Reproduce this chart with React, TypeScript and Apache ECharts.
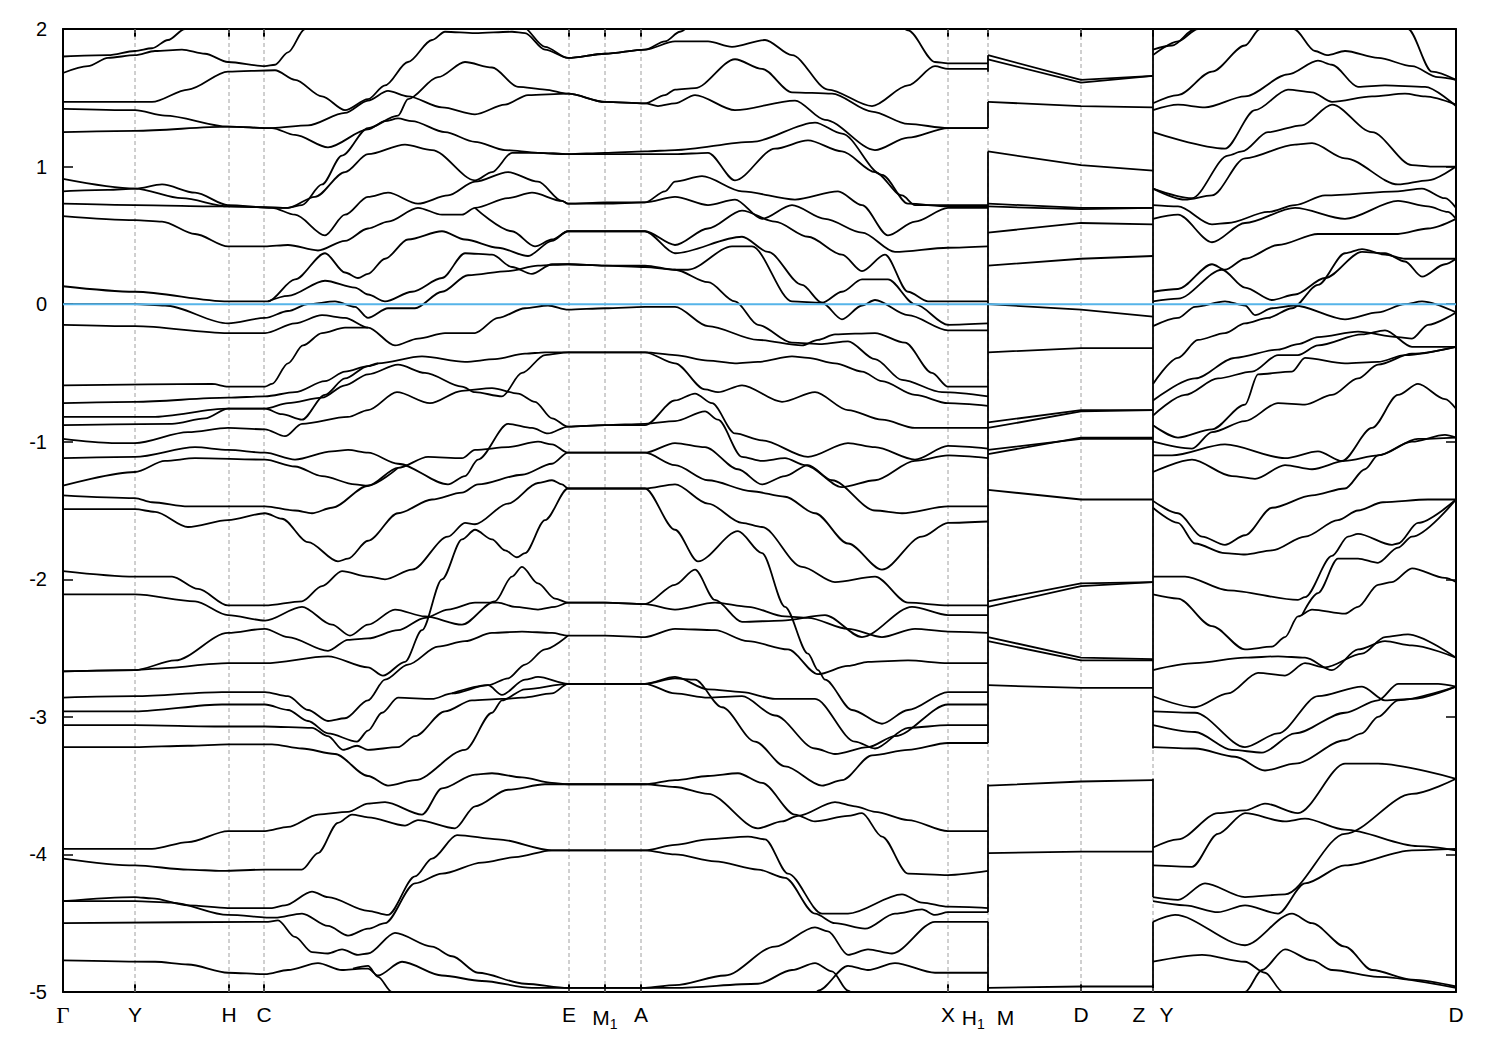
import React, { useEffect, useRef } from "react";
import * as echarts from "echarts";

type Pt = [number, number];

// High-symmetry points along the k-path (path length units) and their names
const kPoints = [0, 72, 166, 201, 506, 542, 578, 885, 925, 1018, 1090, 1393];
const kNames = ["Γ", "Y", "H", "C", "E", "M1", "A", "X", "H1 M", "D", "Z Y", "D"];
const energyMin = -5;
const energyMax = 2;
const energyStep = 1;
const fermiEnergy = 0;

// Panel 1: Γ - Y - H - C - E - M1 - A - X - H1   (k, E in eV)
const bandsGammaToH1: Pt[][] = [
  [[0,1.80],[45,1.81],[72,1.84],[89,1.86],[105,1.92],[122,2.0],[135,2.08]],
  [[0,1.68],[25,1.73],[45,1.79],[72,1.81],[92,1.84],[119,1.85],[142,1.82],[165,1.76],[202,1.73],[212,1.74],[225,1.83],[242,2.0],[250,2.08]],
  [[0,1.47],[89,1.47],[125,1.56],[165,1.69],[212,1.70],[232,1.63],[259,1.51],[282,1.41],[305,1.49],[322,1.59],[345,1.76],[369,1.92],[382,1.98],[412,1.97],[449,1.98],[462,1.97],[482,1.85],[505,1.79],[542,1.82],[582,1.85],[602,1.91],[617,1.98],[630,2.06]],
  [[440,2.08],[459,2.02],[482,1.87],[505,1.79],[542,1.82],[582,1.85],[612,1.91],[645,1.91],[669,1.87],[702,1.92],[729,1.81],[765,1.56],[809,1.44],[845,1.59],[872,1.73],[885,1.71],[925,1.71]],
  [[835,2.06],[845,1.99],[872,1.76],[885,1.75],[925,1.75]],
  [[0,1.42],[72,1.41],[102,1.37],[165,1.29],[209,1.28],[245,1.30],[282,1.39],[305,1.48],[325,1.55],[345,1.51],[379,1.43],[412,1.38],[442,1.45],[465,1.52],[505,1.53],[542,1.47],[582,1.46],[595,1.44],[612,1.46],[632,1.52],[672,1.41],[732,1.48],[762,1.34],[812,1.12],[845,1.21],[885,1.28],[925,1.28]],
  [[0,1.25],[72,1.26],[165,1.29],[209,1.28],[232,1.23],[265,1.14],[305,1.27],[322,1.33],[335,1.35],[349,1.33],[382,1.25],[412,1.18],[442,1.12],[475,1.10],[505,1.09],[542,1.10],[582,1.11],[612,1.12],[689,1.18],[752,1.32],[779,1.24],[819,0.94],[845,0.73],[885,0.71],[925,0.71]],
  [[0,0.73],[72,0.72],[165,0.71],[225,0.70],[239,0.72],[259,0.87],[279,1.08],[305,1.28],[335,1.37],[345,1.49],[375,1.65],[402,1.76],[429,1.72],[455,1.58],[482,1.56],[505,1.53],[542,1.47],[582,1.46],[602,1.52],[612,1.56],[632,1.57],[672,1.78],[699,1.71],[729,1.54],[769,1.53],[809,1.40],[845,1.31],[885,1.28],[925,1.28]],
  [[0,0.91],[72,0.84],[119,0.77],[165,0.71],[225,0.70],[252,0.78],[282,0.96],[305,1.09],[342,1.16],[369,1.12],[412,0.90],[429,0.96],[449,1.10],[475,1.10],[505,1.09],[542,1.09],[582,1.09],[612,1.09],[645,1.10],[672,0.90],[712,1.13],[745,1.19],[779,1.11],[812,0.96],[839,0.79],[852,0.72],[885,0.72],[925,0.72]],
  [[0,0.82],[45,0.83],[72,0.84],[99,0.87],[132,0.81],[165,0.72],[209,0.70],[232,0.65],[262,0.50],[282,0.65],[305,0.78],[325,0.81],[355,0.73],[385,0.79],[412,0.89],[445,0.96],[475,0.89],[499,0.75],[505,0.73],[542,0.74],[582,0.74],[602,0.82],[612,0.89],[639,0.93],[679,0.82],[732,0.76],[775,0.82],[799,0.72],[825,0.50],[852,0.60],[885,0.70],[925,0.70]],
  [[0,0.64],[72,0.61],[99,0.60],[132,0.51],[165,0.42],[202,0.42],[225,0.43],[255,0.39],[282,0.46],[305,0.55],[325,0.60],[355,0.70],[379,0.65],[399,0.65],[412,0.70],[445,0.77],[469,0.81],[499,0.75],[505,0.73],[542,0.73],[582,0.74],[612,0.78],[645,0.72],[672,0.76],[699,0.62],[729,0.72],[762,0.62],[799,0.52],[832,0.38],[885,0.41],[925,0.42]],
  [[0,0.13],[72,0.09],[165,0.02],[205,0.02],[232,0.18],[262,0.37],[282,0.23],[295,0.19],[305,0.22],[322,0.33],[345,0.47],[379,0.53],[402,0.47],[435,0.41],[465,0.35],[489,0.46],[505,0.53],[542,0.53],[582,0.53],[612,0.43],[645,0.55],[679,0.68],[712,0.60],[745,0.49],[779,0.36],[799,0.24],[822,0.36],[845,0.09],[865,0.02],[925,0.02]],
  [[412,0.70],[449,0.53],[472,0.42],[489,0.47],[505,0.53],[542,0.53],[582,0.53],[612,0.37],[679,0.49],[705,0.38],[739,0.14],[759,0.01],[779,0.09],[799,0.18],[825,0.18],[852,0.00],[885,-0.15],[925,-0.14]],
  [[205,0.02],[225,0.06],[262,0.17],[292,0.12],[305,0.07],[322,0.02],[349,0.09],[379,0.19],[402,0.37],[429,0.36],[449,0.27],[469,0.22],[489,0.29],[505,0.29],[542,0.28],[582,0.27],[612,0.25],[625,0.25],[669,0.42],[689,0.42],[729,0.02],[759,0.01],[779,-0.11],[799,-0.01],[812,0.03],[845,-0.08],[885,-0.19],[925,-0.19]],
  [[0,0.00],[72,0.00],[102,-0.01],[165,-0.14],[202,-0.10],[225,-0.05],[245,0.00],[272,0.02],[292,-0.02],[305,-0.10],[325,-0.03],[352,-0.03],[379,0.09],[405,0.21],[445,0.24],[475,0.28],[505,0.29],[542,0.28],[582,0.28],[612,0.25],[645,0.16],[672,0.02],[695,-0.15],[729,-0.28],[759,-0.29],[785,-0.27],[812,-0.40],[839,-0.55],[879,-0.64],[925,-0.67]],
  [[0,-0.15],[72,-0.16],[165,-0.21],[202,-0.21],[232,-0.14],[259,-0.08],[282,-0.10],[305,-0.17],[332,-0.30],[355,-0.25],[382,-0.21],[412,-0.21],[435,-0.10],[462,-0.03],[485,-0.01],[505,-0.04],[542,-0.03],[582,-0.02],[612,-0.02],[645,-0.16],[695,-0.26],[739,-0.30],[755,-0.26],[772,-0.22],[812,-0.21],[842,-0.28],[869,-0.50],[885,-0.60],[925,-0.60]],
  [[0,-0.59],[149,-0.58],[165,-0.60],[202,-0.60],[209,-0.58],[225,-0.43],[240,-0.30],[259,-0.21],[282,-0.17],[305,-0.17]],
  [[0,-0.72],[72,-0.71],[165,-0.68],[202,-0.67],[232,-0.64],[262,-0.56],[282,-0.49],[305,-0.45],[315,-0.43],[359,-0.38],[402,-0.42],[432,-0.40],[462,-0.36],[482,-0.35],[505,-0.35],[542,-0.35],[582,-0.35],[612,-0.37],[645,-0.41],[672,-0.43],[695,-0.42],[729,-0.38],[745,-0.39],[772,-0.43],[799,-0.49],[819,-0.56],[852,-0.66],[885,-0.72],[925,-0.74]],
  [[0,-0.82],[89,-0.82],[165,-0.76],[202,-0.76],[225,-0.72],[259,-0.68],[282,-0.59],[305,-0.51],[335,-0.44],[362,-0.50],[399,-0.60],[412,-0.64],[439,-0.67],[459,-0.50],[482,-0.37],[505,-0.35],[542,-0.35],[582,-0.35],[612,-0.43],[642,-0.62],[655,-0.64],[679,-0.59],[719,-0.71],[752,-0.64],[785,-0.77],[819,-0.84],[852,-0.90],[885,-0.90],[925,-0.90]],
  [[0,-0.88],[109,-0.87],[142,-0.83],[165,-0.76],[202,-0.76],[219,-0.80],[239,-0.84],[262,-0.66],[282,-0.54],[305,-0.45],[315,-0.43]],
  [[0,-0.98],[49,-1.01],[72,-1.01],[125,-0.93],[165,-0.90],[202,-0.91],[222,-0.96],[239,-0.87],[285,-0.82],[305,-0.77],[334,-0.64],[367,-0.72],[399,-0.63],[429,-0.61],[455,-0.65],[472,-0.71],[489,-0.83],[505,-0.89],[542,-0.88],[582,-0.88],[612,-0.70],[632,-0.65],[649,-0.72],[672,-0.94],[699,-0.99],[745,-1.11],[785,-1.01],[812,-1.04],[852,-1.13],[885,-1.03],[925,-1.05]],
  [[0,-1.12],[72,-1.11],[132,-1.04],[165,-1.06],[202,-1.08],[232,-1.13],[269,-1.07],[285,-1.06],[305,-1.08],[335,-1.16],[385,-1.31],[402,-1.25],[415,-1.13],[445,-0.87],[469,-0.90],[485,-0.94],[505,-0.89],[542,-0.88],[582,-0.87],[612,-0.85],[642,-0.78],[655,-0.84],[679,-1.11],[699,-1.14],[722,-1.12],[742,-1.17],[779,-1.33],[812,-1.28],[852,-1.14],[885,-1.10],[925,-1.12]],
  [[0,-1.32],[72,-1.22],[102,-1.14],[132,-1.12],[202,-1.13],[232,-1.18],[259,-1.25],[292,-1.31],[305,-1.32],[335,-1.19],[365,-1.11],[399,-1.12],[412,-1.06],[445,-1.04],[475,-1.00],[489,-1.02],[505,-1.08],[542,-1.08],[582,-1.08],[612,-1.01],[642,-1.04],[675,-1.20],[699,-1.31],[722,-1.25],[745,-1.17],[769,-1.28],[812,-1.50],[839,-1.52],[885,-1.47],[925,-1.47]],
  [[0,-1.39],[72,-1.41],[89,-1.44],[125,-1.47],[202,-1.47],[232,-1.50],[249,-1.52],[269,-1.48],[305,-1.32],[335,-1.19]],
  [[0,-1.49],[72,-1.49],[92,-1.51],[125,-1.62],[165,-1.57],[202,-1.52],[219,-1.56],[245,-1.73],[275,-1.87],[285,-1.85],[305,-1.72],[335,-1.52],[369,-1.42],[399,-1.37],[415,-1.31],[459,-1.24],[489,-1.16],[505,-1.08],[542,-1.08],[582,-1.08],[612,-1.17],[645,-1.28],[689,-1.36],[722,-1.40],[752,-1.52],[785,-1.74],[819,-1.93],[859,-1.69],[885,-1.59],[925,-1.58]],
  [[0,-1.94],[72,-1.98],[109,-1.98],[135,-2.07],[165,-2.19],[202,-2.19],[239,-2.16],[259,-2.05],[279,-1.94],[305,-1.98],[322,-2.00],[349,-1.93],[385,-1.69],[402,-1.59],[412,-1.60],[445,-1.45],[475,-1.30],[489,-1.28],[499,-1.31],[505,-1.34],[542,-1.34],[582,-1.34],[612,-1.31],[645,-1.45],[679,-1.59],[699,-1.62],[739,-1.91],[772,-2.02],[812,-1.98],[845,-2.17],[885,-2.19],[925,-2.19]],
  [[0,-2.67],[72,-2.66],[92,-2.65],[165,-2.61],[202,-2.61],[265,-2.56],[305,-2.64],[320,-2.70],[342,-2.60],[359,-2.37],[379,-2.00],[399,-1.71],[412,-1.64],[429,-1.71],[442,-1.79],[454,-1.84],[462,-1.81],[482,-1.57],[505,-1.34],[542,-1.34],[582,-1.34],[612,-1.64],[635,-1.87],[675,-1.65],[699,-1.81],[722,-2.20],[745,-2.54],[755,-2.66],[762,-2.73],[789,-2.95],[819,-3.05],[845,-2.95],[885,-2.82],[925,-2.82]],
  [[0,-2.11],[72,-2.11],[132,-2.16],[165,-2.26],[202,-2.30],[239,-2.20],[269,-2.33],[287,-2.41],[305,-2.33],[332,-2.22],[362,-2.27],[399,-2.33],[432,-2.16],[449,-1.98],[459,-1.91],[475,-2.03],[492,-2.14],[505,-2.17],[542,-2.17],[582,-2.18],[612,-2.04],[632,-1.93],[652,-2.15],[679,-2.31],[719,-2.30],[762,-2.26],[799,-2.42],[849,-2.20],[885,-2.26],[925,-2.26]],
  [[0,-2.67],[72,-2.66],[112,-2.59],[165,-2.39],[202,-2.36],[225,-2.42],[265,-2.52],[285,-2.44],[305,-2.43],[335,-2.37],[362,-2.28],[385,-2.22],[412,-2.17],[435,-2.17],[452,-2.20],[475,-2.22],[492,-2.20],[505,-2.17],[542,-2.17],[582,-2.18],[612,-2.22],[652,-2.17],[685,-2.20],[722,-2.27],[745,-2.28],[785,-2.36],[819,-2.42],[852,-2.36],[885,-2.38],[925,-2.39]],
  [[0,-2.86],[72,-2.85],[159,-2.82],[202,-2.82],[225,-2.85],[245,-2.95],[265,-3.03],[282,-3.01],[305,-2.88],[322,-2.73],[345,-2.62],[375,-2.49],[402,-2.45],[429,-2.39],[459,-2.38],[489,-2.39],[505,-2.41],[542,-2.41],[582,-2.42],[612,-2.36],[652,-2.37],[685,-2.45],[725,-2.51],[755,-2.69],[785,-2.63],[805,-2.60],[845,-2.59],[885,-2.61],[925,-2.61]],
  [[389,-2.83],[425,-2.77],[445,-2.72],[462,-2.62],[482,-2.51],[505,-2.41]],
  [[0,-2.96],[72,-2.96],[159,-2.91],[202,-2.91],[225,-2.95],[245,-3.03],[265,-3.12],[294,-3.18],[305,-3.10],[319,-2.97],[335,-2.86],[369,-2.87],[389,-2.83],[425,-2.77],[439,-2.84],[462,-2.73],[475,-2.71],[505,-2.76],[542,-2.76],[582,-2.76],[612,-2.83],[645,-2.86],[679,-2.85],[712,-2.99],[752,-3.23],[772,-3.27],[805,-3.22],[832,-3.14],[885,-2.91],[925,-2.91]],
  [[0,-3.06],[72,-3.06],[159,-3.07],[202,-3.07],[249,-3.08],[265,-3.14],[280,-3.24],[294,-3.21],[305,-3.24],[335,-3.22],[352,-3.14],[382,-2.96],[409,-2.88],[439,-2.87],[459,-2.86],[489,-2.83],[505,-2.76],[542,-2.76],[582,-2.76],[612,-2.71],[645,-2.80],[679,-2.82],[712,-2.87],[752,-2.87],[792,-3.18],[812,-3.23],[845,-3.08],[885,-3.06],[925,-3.06]],
  [[0,-3.22],[72,-3.22],[125,-3.21],[165,-3.20],[209,-3.20],[239,-3.23],[272,-3.27],[305,-3.43],[325,-3.50],[352,-3.46],[402,-3.24],[429,-2.97],[439,-2.88],[462,-2.80],[505,-2.76],[542,-2.76],[582,-2.76],[612,-2.72],[632,-2.73],[659,-2.93],[692,-3.18],[722,-3.36],[759,-3.50],[779,-3.46],[809,-3.28],[845,-3.24],[885,-3.19],[925,-3.19]],
  [[0,-3.96],[89,-3.96],[125,-3.91],[165,-3.83],[202,-3.83],[225,-3.80],[255,-3.71],[285,-3.69],[305,-3.63],[322,-3.62],[359,-3.71],[379,-3.52],[412,-3.42],[429,-3.41],[459,-3.44],[489,-3.48],[505,-3.49],[542,-3.49],[582,-3.49],[612,-3.46],[645,-3.43],[675,-3.41],[699,-3.48],[732,-3.71],[752,-3.76],[785,-3.72],[799,-3.70],[819,-3.87],[845,-4.14],[885,-4.15],[925,-4.12]],
  [[0,-4.03],[72,-4.08],[125,-4.11],[159,-4.12],[202,-4.11],[239,-4.11],[255,-3.99],[275,-3.77],[289,-3.71],[305,-3.73],[342,-3.79],[355,-3.75],[392,-3.81],[412,-3.65],[445,-3.53],[482,-3.49],[505,-3.49],[542,-3.49],[582,-3.49],[612,-3.51],[645,-3.56],[695,-3.81],[719,-3.76],[735,-3.72],[772,-3.62],[792,-3.65],[812,-3.69],[845,-3.75],[885,-3.83],[925,-3.83]],
  [[0,-4.34],[72,-4.31],[89,-4.32],[125,-4.37],[165,-4.39],[209,-4.39],[222,-4.37],[249,-4.27],[265,-4.31],[305,-4.41],[325,-4.44],[352,-4.16],[369,-4.03],[394,-3.86],[435,-3.89],[489,-3.97],[505,-3.97],[542,-3.97],[582,-3.97],[612,-3.93],[645,-3.89],[685,-3.87],[702,-3.89],[725,-4.14],[759,-4.43],[785,-4.43],[839,-4.29],[859,-4.35],[885,-4.38],[925,-4.39]],
  [[0,-4.34],[72,-4.34],[109,-4.35],[165,-4.44],[212,-4.46],[239,-4.43],[265,-4.52],[285,-4.59],[305,-4.54],[322,-4.50],[352,-4.21],[379,-4.14],[419,-4.06],[452,-4.02],[489,-3.97],[505,-3.97],[542,-3.97],[582,-3.97],[612,-4.00],[652,-4.05],[695,-4.11],[722,-4.17],[752,-4.43],[772,-4.50],[802,-4.54],[832,-4.43],[859,-4.40],[872,-4.44],[885,-4.42],[925,-4.42]],
  [[0,-4.50],[205,-4.49],[215,-4.48],[232,-4.60],[249,-4.71],[265,-4.72],[279,-4.69],[295,-4.73],[305,-4.72],[332,-4.57],[369,-4.67],[389,-4.74],[415,-4.86],[462,-4.94],[505,-4.97],[542,-4.97],[582,-4.97],[612,-4.95],[662,-4.88],[712,-4.67],[752,-4.53],[765,-4.56],[785,-4.73],[805,-4.69],[829,-4.72],[872,-4.49],[925,-4.49]],
  [[0,-4.77],[92,-4.78],[125,-4.80],[165,-4.86],[202,-4.87],[225,-4.84],[255,-4.79],[279,-4.84],[299,-4.83],[305,-4.83],[315,-4.88],[339,-4.78],[379,-4.88],[419,-4.92],[469,-4.97],[505,-4.97],[542,-4.97],[582,-4.97],[612,-4.97],[695,-4.94],[729,-4.84],[752,-4.79],[769,-4.85],[785,-4.99],[795,-5.08]],
  [[290,-4.83],[305,-4.81],[315,-4.89],[329,-5.0],[337,-5.08]],
  [[750,-5.08],[755,-4.99],[785,-4.81],[805,-4.84],[832,-4.79],[872,-4.86],[925,-4.86]],
];

// Panel 2: M - D - Z, energies at M, D, Z
const bandsMToZ: number[][] = [
  [1.81, 1.63, 1.66], [1.78, 1.61, 1.66], [1.47, 1.44, 1.43], [1.11, 1.01, 0.97],
  [0.73, 0.70, 0.70], [0.71, 0.69, 0.70], [0.52, 0.59, 0.58], [0.28, 0.33, 0.35],
  [0.00, -0.04, -0.09], [-0.35, -0.32, -0.32], [-0.86, -0.77, -0.77], [-0.90, -0.78, -0.77],
  [-1.06, -0.98, -0.98], [-1.09, -0.97, -0.97], [-1.35, -1.42, -1.42], [-2.16, -2.03, -2.02],
  [-2.20, -2.05, -2.02], [-2.42, -2.57, -2.58], [-2.45, -2.59, -2.59], [-2.77, -2.79, -2.79],
  [-3.50, -3.47, -3.46], [-3.99, -3.98, -3.98], [-4.97, -4.96, -4.96],
];

// Panel 3: Y - D
const bandsYToD: Pt[][] = [
  [[1090,1.85],[1109,1.88],[1132,2.0],[1142,2.06]],
  [[1090,1.81],[1115,1.91],[1135,2.0],[1145,2.06]],
  [[1090,1.46],[1115,1.52],[1149,1.69],[1182,1.88],[1197,2.0],[1205,2.06]],
  [[1222,2.08],[1231,2.0],[1252,1.84],[1264,1.81],[1282,1.84],[1315,1.79],[1349,1.73],[1375,1.65],[1393,1.63]],
  [[1090,1.41],[1115,1.45],[1142,1.43],[1182,1.51],[1225,1.67],[1255,1.77],[1269,1.74],[1295,1.58],[1322,1.59],[1362,1.58],[1393,1.44]],
  [[1090,1.25],[1162,1.13],[1192,1.41],[1225,1.56],[1249,1.54],[1269,1.47],[1309,1.51],[1342,1.53],[1362,1.51],[1393,1.45]],
  [[1338,2.08],[1345,2.0],[1369,1.69],[1393,1.63]],
  [[1090,0.84],[1129,0.77],[1165,1.08],[1179,1.11],[1205,1.25],[1239,1.30],[1269,1.45],[1309,1.25],[1349,1.01],[1369,1.00],[1393,1.00]],
  [[1090,0.84],[1122,0.76],[1149,0.79],[1182,1.06],[1232,1.16],[1249,1.17],[1282,1.06],[1335,0.87],[1365,0.90],[1393,1.00]],
  [[1090,0.72],[1115,0.71],[1149,0.58],[1165,0.59],[1205,0.67],[1232,0.72],[1262,0.79],[1335,0.82],[1359,0.84],[1382,0.77],[1393,0.70]],
  [[1090,0.62],[1115,0.65],[1149,0.45],[1182,0.59],[1232,0.70],[1282,0.62],[1335,0.75],[1365,0.71],[1385,0.67],[1393,0.62]],
  [[1090,0.09],[1115,0.11],[1149,0.29],[1162,0.25],[1182,0.33],[1215,0.43],[1255,0.51],[1300,0.51],[1335,0.51],[1365,0.55],[1393,0.62]],
  [[1090,0.02],[1115,0.04],[1159,0.25],[1182,0.12],[1209,0.03],[1232,0.07],[1262,0.19],[1299,0.38],[1322,0.37],[1342,0.31],[1359,0.20],[1382,0.29],[1393,0.33]],
  [[1090,-0.58],[1115,-0.39],[1135,-0.26],[1162,-0.21],[1182,-0.14],[1205,-0.10],[1229,-0.03],[1255,0.14],[1282,0.37],[1299,0.40],[1322,0.36],[1342,0.33],[1365,0.33],[1393,0.33]],
  [[1090,-0.16],[1115,-0.10],[1132,-0.02],[1162,0.02],[1182,-0.01],[1192,-0.08],[1209,-0.03],[1232,-0.01],[1282,-0.11],[1315,-0.06],[1342,0.00],[1359,0.02],[1393,-0.06]],
  [[1090,-0.70],[1132,-0.54],[1172,-0.39],[1215,-0.33],[1235,-0.29],[1255,-0.24],[1295,-0.20],[1335,-0.24],[1349,-0.25],[1365,-0.15],[1393,-0.06]],
  [[1090,-0.81],[1122,-0.66],[1155,-0.54],[1189,-0.49],[1215,-0.37],[1235,-0.37],[1255,-0.30],[1299,-0.22],[1322,-0.19],[1349,-0.31],[1393,-0.31]],
  [[1090,-0.88],[1115,-0.97],[1149,-0.91],[1182,-0.73],[1195,-0.51],[1229,-0.49],[1242,-0.39],[1282,-0.43],[1315,-0.42],[1342,-0.37],[1393,-0.31]],
  [[1090,-1.00],[1129,-1.05],[1149,-0.93],[1182,-0.85],[1215,-0.72],[1242,-0.73],[1269,-0.66],[1295,-0.54],[1315,-0.44],[1349,-0.36],[1393,-0.31]],
  [[1090,-1.10],[1109,-1.10],[1162,-1.02],[1222,-1.12],[1255,-1.07],[1279,-1.14],[1309,-0.90],[1335,-0.66],[1355,-0.58],[1382,-0.69],[1393,-0.76]],
  [[1090,-1.22],[1129,-1.13],[1169,-1.25],[1192,-1.27],[1222,-1.17],[1249,-1.20],[1282,-1.14],[1315,-1.10],[1349,-1.00],[1382,-0.95],[1393,-0.97]],
  [[1090,-1.43],[1115,-1.52],[1139,-1.69],[1162,-1.75],[1182,-1.68],[1209,-1.48],[1249,-1.39],[1282,-1.34],[1302,-1.20],[1315,-1.10],[1355,-0.98],[1393,-0.97]],
  [[1090,-1.48],[1115,-1.59],[1132,-1.74],[1162,-1.81],[1182,-1.82],[1209,-1.79],[1242,-1.69],[1275,-1.57],[1295,-1.50],[1320,-1.44],[1365,-1.42],[1393,-1.42]],
  [[1090,-1.98],[1122,-1.98],[1165,-2.08],[1235,-2.15],[1242,-2.13],[1269,-1.83],[1285,-1.69],[1295,-1.67],[1329,-1.75],[1335,-1.74],[1355,-1.59],[1393,-1.42]],
  [[1090,-2.11],[1115,-2.14],[1149,-2.34],[1182,-2.51],[1209,-2.49],[1222,-2.42],[1235,-2.27],[1249,-2.22],[1282,-2.25],[1295,-2.20],[1315,-2.04],[1329,-2.02],[1349,-1.92],[1382,-1.99],[1393,-2.02]],
  [[1239,-2.26],[1255,-2.10],[1275,-1.85],[1295,-1.85],[1315,-1.88],[1335,-1.77],[1349,-1.69],[1393,-1.42]],
  [[1090,-2.66],[1132,-2.61],[1182,-2.57],[1215,-2.56],[1242,-2.57],[1269,-2.66],[1295,-2.51],[1322,-2.45],[1349,-2.48],[1393,-2.57]],
  [[1090,-2.85],[1132,-2.93],[1165,-2.83],[1195,-2.68],[1222,-2.70],[1242,-2.61],[1262,-2.64],[1299,-2.54],[1322,-2.42],[1345,-2.40],[1393,-2.57]],
  [[1090,-2.96],[1132,-2.97],[1182,-3.22],[1215,-3.12],[1255,-2.85],[1299,-2.78],[1322,-2.88],[1349,-2.87],[1393,-2.78]],
  [[1090,-3.06],[1132,-3.11],[1169,-3.24],[1199,-3.26],[1232,-3.12],[1282,-2.97],[1315,-2.88],[1335,-2.76],[1375,-2.76],[1393,-2.78]],
  [[1090,-3.22],[1132,-3.23],[1172,-3.29],[1202,-3.39],[1232,-3.34],[1282,-3.17],[1299,-3.12],[1315,-3.00],[1335,-2.88],[1393,-2.78]],
  [[1090,-3.95],[1115,-3.89],[1155,-3.70],[1182,-3.68],[1202,-3.63],[1235,-3.70],[1282,-3.34],[1315,-3.34],[1393,-3.45]],
  [[1090,-4.08],[1129,-4.09],[1155,-3.85],[1182,-3.70],[1222,-3.76],[1242,-3.74],[1282,-3.82],[1355,-3.94],[1393,-3.97]],
  [[1090,-4.31],[1115,-4.33],[1142,-4.21],[1182,-4.31],[1222,-4.29],[1282,-3.85],[1349,-3.56],[1393,-3.45]],
  [[1090,-4.34],[1122,-4.37],[1155,-4.42],[1182,-4.37],[1215,-4.43],[1242,-4.21],[1282,-4.08],[1349,-3.97],[1393,-3.96]],
  [[1090,-4.49],[1112,-4.44],[1182,-4.66],[1229,-4.43],[1249,-4.50],[1282,-4.67],[1309,-4.84],[1349,-4.91],[1393,-4.96]],
  [[1090,-4.78],[1139,-4.73],[1182,-4.78],[1202,-4.86],[1220,-5.0],[1226,-5.06]],
  [[1178,-5.06],[1182,-5.0],[1199,-4.84],[1222,-4.69],[1249,-4.77],[1269,-4.84],[1315,-4.89],[1393,-4.97]],
];

// Vertical band jumps at the path discontinuities (energy ranges)
const jumpsAtH1M: number[][] = [[1.81, 1.69], [1.47, 1.28], [1.11, -3.19], [-3.49, -4.42], [-4.49, -5.0]];
const jumpsAtZY: number[][] = [[2.0, -3.23], [-3.45, -4.31], [-4.49, -4.97]];

const kM = kPoints[8];
const kDmid = kPoints[9];
const kZ = kPoints[10];

function labelFor(v: number): string {
  const i = kPoints.findIndex((p) => Math.abs(p - v) < 0.5);
  if (i < 0) return "";
  const name = kNames[i];
  if (name === "Γ") return "{g|Γ}";
  if (name === "M1") return "{n|M}{s|1}";
  if (name === "H1 M") return "{n|H}{s|1}{m|M}";
  if (name === "Z Y") return "{n|Z}{m2|Y}";
  return "{n|" + name + "}";
}

export default function App() {
  const ref = useRef<HTMLDivElement>(null);
  useEffect(() => {
    document.body.style.margin = "0";
    if (!ref.current) return;
    const chart = echarts.init(ref.current, undefined, { renderer: "svg" });

    const bandStyle = { color: "#000", width: 1.8 };
    const series: any[] = [];

    // dashed grid lines at high-symmetry points
    kPoints.slice(1, -1).forEach((k) => {
      series.push({
        type: "line", data: [[k, energyMin], [k, energyMax]], symbol: "none", silent: true, z: 1,
        lineStyle: { color: "#a0a0a0", width: 1, type: [4, 3] },
      });
    });

    const addSmooth = (pts: Pt[]) => series.push({
      type: "line", data: pts, symbol: "none", silent: true, smooth: 0.3, smoothMonotone: "x",
      lineStyle: bandStyle, z: 2,
    });
    bandsGammaToH1.forEach(addSmooth);
    bandsYToD.forEach(addSmooth);

    bandsMToZ.forEach((b) => series.push({
      type: "line", data: [[kM, b[0]], [kDmid, b[1]], [kZ, b[2]]], symbol: "none", silent: true,
      lineStyle: bandStyle, z: 2,
    }));
    jumpsAtH1M.forEach((j) => series.push({
      type: "line", data: [[kM, j[0]], [kM, j[1]]], symbol: "none", silent: true, lineStyle: bandStyle, z: 2,
    }));
    jumpsAtZY.forEach((j) => series.push({
      type: "line", data: [[kZ, j[0]], [kZ, j[1]]], symbol: "none", silent: true, lineStyle: bandStyle, z: 2,
    }));

    series.push({
      type: "line", data: [[kPoints[0], fermiEnergy], [kPoints[kPoints.length - 1], fermiEnergy]],
      symbol: "none", silent: true, z: 5, lineStyle: { color: "#56b4e9", width: 2 },
    });

    const inner = kPoints.slice(1, -1);
    const font = "Liberation Sans, Arial, sans-serif";
    chart.setOption({
      animation: false,
      backgroundColor: "#fff",
      grid: { left: 63, top: 29, right: 44, bottom: 58, containLabel: false },
      xAxis: [
        {
          type: "value", min: kPoints[0], max: kPoints[kPoints.length - 1], position: "bottom",
          axisLine: { show: true, onZero: false, lineStyle: { color: "#000", width: 2 } },
          axisTick: { show: true, inside: true, length: 8, customValues: inner, lineStyle: { color: "#000", width: 2 } },
          splitLine: { show: false },
          axisLabel: {
            show: true, customValues: kPoints, margin: 12, formatter: (v: number) => labelFor(v),
            rich: {
              n: { fontFamily: font, fontSize: 21, color: "#000" },
              g: { fontFamily: "Liberation Serif, serif", fontSize: 23, color: "#000" },
              s: { fontFamily: font, fontSize: 14, color: "#000", padding: [13, 0, 0, 0] },
              m: { fontFamily: font, fontSize: 21, color: "#000", padding: [0, 0, 0, 12] },
              m2: { fontFamily: font, fontSize: 21, color: "#000", padding: [0, 0, 0, 14] },
            },
          },
        },
        {
          type: "value", min: kPoints[0], max: kPoints[kPoints.length - 1], position: "top",
          axisLine: { show: true, onZero: false, lineStyle: { color: "#000", width: 2 } },
          axisTick: { show: true, inside: true, length: 8, customValues: inner, lineStyle: { color: "#000", width: 2 } },
          splitLine: { show: false },
          axisLabel: { show: false },
        },
      ],
      yAxis: [
        {
          type: "value", min: energyMin, max: energyMax, interval: energyStep, position: "left",
          axisLine: { show: true, onZero: false, lineStyle: { color: "#000", width: 2 } },
          axisTick: { show: true, inside: true, length: 10, lineStyle: { color: "#000", width: 1.5 } },
          splitLine: { show: false },
          axisLabel: { show: true, margin: 16, color: "#000", fontFamily: font, fontSize: 20 },
        },
        {
          type: "value", min: energyMin, max: energyMax, interval: energyStep, position: "right",
          axisLine: { show: true, onZero: false, lineStyle: { color: "#000", width: 2 } },
          axisTick: { show: true, inside: true, length: 10, lineStyle: { color: "#000", width: 1.5 } },
          splitLine: { show: false },
          axisLabel: { show: false },
        },
      ],
      series,
    });
    return () => chart.dispose();
  }, []);
  return <div ref={ref} style={{ width: 1500, height: 1050 }} />;
}
